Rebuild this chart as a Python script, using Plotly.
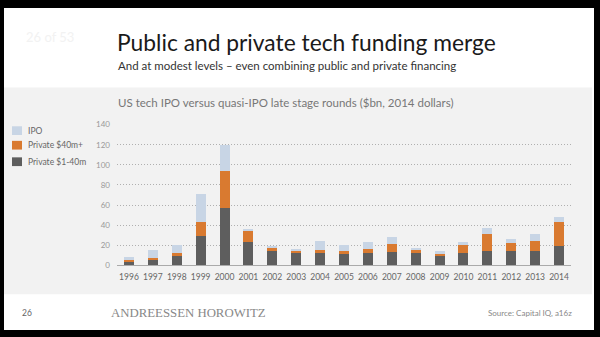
import plotly.graph_objects as go

years = [str(y) for y in range(1996, 2015)]
private_1_40 = [4, 6, 9.5, 29, 57, 23.5, 14, 12.5, 12, 11, 12, 13.5, 12, 9.5, 12, 14.5, 14.5, 14.5, 19.5]
private_40 = [1.5, 1, 2.5, 14, 36.5, 11, 4, 2, 3.5, 3, 4, 7.5, 4.2, 3, 8, 16.5, 8, 9.5, 23.5]
ipo = [3, 8, 8, 28, 26, 2, 1.5, 2, 9, 6, 7, 7, 0.5, 1.3, 3, 6, 4, 7.5, 5.5]
y_ticks = [0, 20, 40, 60, 80, 100, 120, 140]

C_IPO = "#c8d5e5"
C_P40 = "#d97a30"
C_P1 = "#5e5e5e"

W, H = 600, 337
def px(x):
    return x / W
def py(y):
    return 1 - y / H

fig = go.Figure()
fig.add_bar(x=years, y=private_1_40, name="Private $1-40m", marker_color=C_P1, marker_line_width=0)
fig.add_bar(x=years, y=private_40, name="Private $40m+", marker_color=C_P40, marker_line_width=0)
fig.add_bar(x=years, y=ipo, name="IPO", marker_color=C_IPO, marker_line_width=0)

shapes = [
    dict(type="rect", xref="paper", yref="paper", x0=px(4), x1=px(594), y0=py(335), y1=py(3),
         fillcolor="white", line_width=0, layer="below"),
    dict(type="rect", xref="paper", yref="paper", x0=px(4), x1=px(592), y0=py(298), y1=py(85),
         fillcolor="#f2f2f2", line_width=0, layer="below"),
]
legend_items = [("IPO", C_IPO, 125), ("Private $40m+", C_P40, 140), ("Private $1-40m", C_P1, 157)]
annotations = []
for label, col, ytop in legend_items:
    shapes.append(dict(type="rect", xref="paper", yref="paper", x0=px(12), x1=px(22),
                       y0=py(ytop + 9), y1=py(ytop), fillcolor=col, line_width=0))
    annotations.append(dict(text=label, xref="paper", yref="paper", x=px(26), y=py(ytop + 4.5),
                            xanchor="left", yanchor="middle", showarrow=False,
                            font=dict(family="Lato", size=8.5, color="#666666")))

def ann(text, x, y, size, color, family="Lato", xanchor="left"):
    annotations.append(dict(text=text, xref="paper", yref="paper", x=px(x), y=py(y),
                            xanchor=xanchor, yanchor="middle", showarrow=False,
                            font=dict(family=family, size=size, color=color)))

ann("26 of 53", 24, 33, 13, "#f2f2f2")
ann("Public and private tech funding merge", 115, 38, 22.8, "#1a1a1a")
ann("And at modest levels – even combining public and private financing", 116, 62, 11.5, "#333333")
ann("US tech IPO versus quasi-IPO late stage rounds ($bn, 2014 dollars)", 116, 100, 11.5, "#777777")
ann("26", 20, 317, 8.5, "#666666")
ann("ANDREESSEN HOROWITZ", 109, 317, 12.8, "#888888", family="Liberation Serif")
ann("Source: Capital IQ, a16z", 574, 317, 8, "#888888", xanchor="right")

fig.update_layout(
    width=W, height=H, margin=dict(l=0, r=0, t=0, b=0),
    paper_bgcolor="black", plot_bgcolor="rgba(0,0,0,0)",
    barmode="stack", bargap=0.58, showlegend=False,
    shapes=shapes, annotations=annotations,
    font=dict(family="Lato"),
    xaxis=dict(domain=[px(117), px(571)], showgrid=False, showline=True, linecolor="#aaaaaa",
               linewidth=1, ticks="", ticklabelstandoff=3,
               tickfont=dict(size=8.5, color="#666666"), fixedrange=True),
    yaxis=dict(domain=[py(268.3), py(123.3)], range=[0, 140], tickvals=y_ticks,
               showgrid=True, gridcolor="#b0b0b0", griddash="1px,2px", gridwidth=1,
               zeroline=False, ticks="", ticklabelstandoff=6,
               tickfont=dict(size=8, color="#999999")),
)
fig.write_html("out.html")
